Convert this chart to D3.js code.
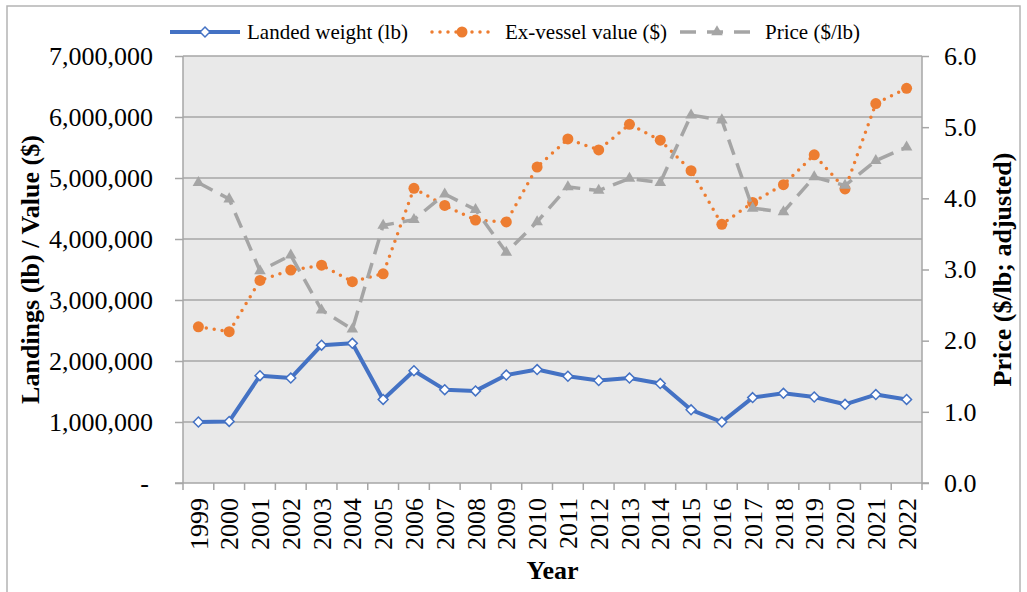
<!DOCTYPE html>
<html lang="en">
<head>
<meta charset="utf-8">
<title>Landings, ex-vessel value and price</title>
<script src="https://d3js.org/d3.v7.min.js"></script>
<style>
    body { margin: 0; background: #fff; }
    svg text { font-family: "Liberation Serif", "Times New Roman", serif; }
    .grid line { stroke: #a6a6a6; stroke-width: 1.5; }
    .axis path, .axis line { stroke: #a6a6a6; stroke-width: 1.5; }
    .axis text { font-size: 26px; fill: #000; }
    .title { font-size: 26px; font-weight: bold; fill: #000; }
    .legend text { font-size: 21px; fill: #000; }
</style>
</head>
<body>
<script>
// data
var years = ["1999", "2000", "2001", "2002", "2003", "2004", "2005", "2006", "2007", "2008", "2009", "2010",
    "2011", "2012", "2013", "2014", "2015", "2016", "2017", "2018", "2019", "2020", "2021", "2022"];
var landedWeight = [1000000, 1010000, 1760000, 1720000, 2260000, 2290000, 1370000, 1840000, 1530000, 1510000, 1770000, 1860000,
    1750000, 1680000, 1720000, 1630000, 1200000, 1000000, 1400000, 1470000, 1410000, 1290000, 1450000, 1370000];
var exVesselValue = [2560000, 2480000, 3320000, 3490000, 3570000, 3300000, 3430000, 4830000, 4550000, 4310000, 4280000, 5180000,
    5640000, 5460000, 5880000, 5620000, 5120000, 4240000, 4600000, 4890000, 5380000, 4820000, 6220000, 6470000];
var price = [4.22, 3.99, 2.98, 3.20, 2.43, 2.16, 3.62, 3.70, 4.06, 3.84, 3.24, 3.67,
    4.16, 4.11, 4.28, 4.22, 5.17, 5.10, 3.86, 3.81, 4.30, 4.18, 4.53, 4.72];
var leftTicks = [0, 1000000, 2000000, 3000000, 4000000, 5000000, 6000000, 7000000];
var rightTicks = [0, 1, 2, 3, 4, 5, 6];
var seriesNames = ["Landed weight (lb)", "Ex-vessel value ($)", "Price ($/lb)"];

var W = 1027, H = 592;
var plot = { left: 183, right: 922, top: 56, bottom: 483 };

var svg = d3.select("body").append("svg")
    .attr("width", W)
    .attr("height", H);

// chart border
svg.append("rect")
    .attr("x", 7).attr("y", 6)
    .attr("width", 1013).attr("height", 620)
    .attr("fill", "none")
    .attr("stroke", "#b4b4b4")
    .attr("stroke-width", 1.5);

var x = d3.scaleBand().domain(years).range([plot.left, plot.right]).padding(0);
var yL = d3.scaleLinear().domain([0, 7000000]).range([plot.bottom, plot.top]);
var yR = d3.scaleLinear().domain([0, 6]).range([plot.bottom, plot.top]);

svg.append("rect")
    .attr("x", plot.left).attr("y", plot.top)
    .attr("width", plot.right - plot.left)
    .attr("height", plot.bottom - plot.top)
    .attr("fill", "#e9e9e9");

// gridlines
svg.append("g").attr("class", "grid")
    .selectAll("line")
    .data(leftTicks.filter(d => d > 0))
    .enter().append("line")
    .attr("x1", plot.left).attr("x2", plot.right)
    .attr("y1", d => yL(d)).attr("y2", d => yL(d));

// left axis
var fmt = d3.format(",");
var leftAxis = svg.append("g").attr("class", "axis")
    .attr("transform", `translate(${plot.left},0)`)
    .call(d3.axisLeft(yL).tickValues(leftTicks).tickSize(8).tickPadding(22)
        .tickFormat(d => d === 0 ? "-" : fmt(d)));
leftAxis.attr("font-family", null);
leftAxis.select(".domain").attr("d", `M0,${plot.top}V${plot.bottom}`);
leftAxis.selectAll("text").filter(d => d === 0).attr("dx", -4);

// right axis
var rightAxis = svg.append("g").attr("class", "axis")
    .attr("transform", `translate(${plot.right},0)`)
    .call(d3.axisRight(yR).tickValues(rightTicks).tickSize(7).tickPadding(15)
        .tickFormat(d3.format(".1f")));
rightAxis.attr("font-family", null);
rightAxis.select(".domain").attr("d", `M0,${plot.top}V${plot.bottom}`);

// bottom axis: ticks between categories
var xg = svg.append("g").attr("class", "axis");
xg.append("line")
    .attr("x1", plot.left - 8).attr("x2", plot.right + 7)
    .attr("y1", plot.bottom).attr("y2", plot.bottom);
var bounds = years.map(d => x(d)).concat([plot.right]);
xg.selectAll("line.tick")
    .data(bounds)
    .enter().append("line")
    .attr("class", "tick")
    .attr("x1", d => d).attr("x2", d => d)
    .attr("y1", plot.bottom).attr("y2", plot.bottom + 7);
xg.selectAll("text")
    .data(years)
    .enter().append("text")
    .attr("transform", d => `translate(${x(d) + x.bandwidth() / 2},${plot.bottom + 15}) rotate(-90)`)
    .attr("text-anchor", "end")
    .attr("dy", "0.35em")
    .text(d => d);

// axis titles
svg.append("text").attr("class", "title")
    .attr("transform", `translate(30,${(plot.top + plot.bottom) / 2}) rotate(-90)`)
    .attr("text-anchor", "middle")
    .attr("dy", "0.35em")
    .text("Landings (lb) / Value ($)");
svg.append("text").attr("class", "title")
    .attr("transform", `translate(1002,${(plot.top + plot.bottom) / 2}) rotate(-90)`)
    .attr("text-anchor", "middle")
    .attr("dy", "0.35em")
    .text("Price ($/lb; adjusted)");
svg.append("text").attr("class", "title")
    .attr("x", (plot.left + plot.right) / 2)
    .attr("y", 579)
    .attr("text-anchor", "middle")
    .text("Year");

var cx = (d, i) => x(years[i]) + x.bandwidth() / 2;
var diamond = d3.symbol().type(d3.symbolDiamond2).size(62);
var triangle = d3.symbol().type(d3.symbolTriangle).size(58);

// landed weight
var lineW = d3.line().x(cx).y(d => yL(d));
svg.append("path")
    .datum(landedWeight)
    .attr("d", lineW)
    .attr("fill", "none")
    .attr("stroke", "#4472c4")
    .attr("stroke-width", 4)
    .attr("stroke-linejoin", "round");
svg.append("g").selectAll("path")
    .data(landedWeight)
    .enter().append("path")
    .attr("transform", (d, i) => `translate(${cx(d, i)},${yL(d)})`)
    .attr("d", diamond)
    .attr("fill", "#fff")
    .attr("stroke", "#4472c4")
    .attr("stroke-width", 1.5);

// ex-vessel value
svg.append("path")
    .datum(exVesselValue)
    .attr("d", lineW)
    .attr("fill", "none")
    .attr("stroke", "#ed7d31")
    .attr("stroke-width", 3.5)
    .attr("stroke-linecap", "round")
    .attr("stroke-dasharray", "0,8");
svg.append("g").selectAll("circle")
    .data(exVesselValue)
    .enter().append("circle")
    .attr("cx", cx)
    .attr("cy", d => yL(d))
    .attr("r", 5.5)
    .attr("fill", "#ed7d31");

// price (right axis)
var lineP = d3.line().x(cx).y(d => yR(d));
svg.append("path")
    .datum(price)
    .attr("d", lineP)
    .attr("fill", "none")
    .attr("stroke", "#a5a5a5")
    .attr("stroke-width", 3.5)
    .attr("stroke-dasharray", "16,9");
svg.append("g").selectAll("path")
    .data(price)
    .enter().append("path")
    .attr("transform", (d, i) => `translate(${cx(d, i)},${yR(d)})`)
    .attr("d", triangle)
    .attr("fill", "#a5a5a5");

// legend
var legendX = [170, 430, 680];
var textX = [247, 505, 765];
var lg = svg.append("g").attr("class", "legend");
var ly = 32;
lg.append("line").attr("x1", legendX[0]).attr("x2", legendX[0] + 70).attr("y1", ly).attr("y2", ly)
    .attr("stroke", "#4472c4").attr("stroke-width", 4);
lg.append("path").attr("transform", `translate(${legendX[0] + 35},${ly})`).attr("d", diamond)
    .attr("fill", "#fff").attr("stroke", "#4472c4").attr("stroke-width", 1.5);
lg.append("line").attr("x1", legendX[1] + 2).attr("x2", legendX[1] + 64).attr("y1", ly).attr("y2", ly)
    .attr("stroke", "#ed7d31").attr("stroke-width", 3.5).attr("stroke-linecap", "round").attr("stroke-dasharray", "0,8");
lg.append("circle").attr("cx", legendX[1] + 32).attr("cy", ly).attr("r", 5.5).attr("fill", "#ed7d31");
lg.append("line").attr("x1", legendX[2]).attr("x2", legendX[2] + 70).attr("y1", ly).attr("y2", ly)
    .attr("stroke", "#a5a5a5").attr("stroke-width", 3.5).attr("stroke-dasharray", "16,11");
lg.append("path").attr("transform", `translate(${legendX[2] + 37},${ly})`).attr("d", triangle)
    .attr("fill", "#a5a5a5");
lg.selectAll("text")
    .data(seriesNames)
    .enter().append("text")
    .attr("x", (d, i) => textX[i])
    .attr("y", ly)
    .attr("dy", "0.35em")
    .text(d => d);
</script>
</body>
</html>
